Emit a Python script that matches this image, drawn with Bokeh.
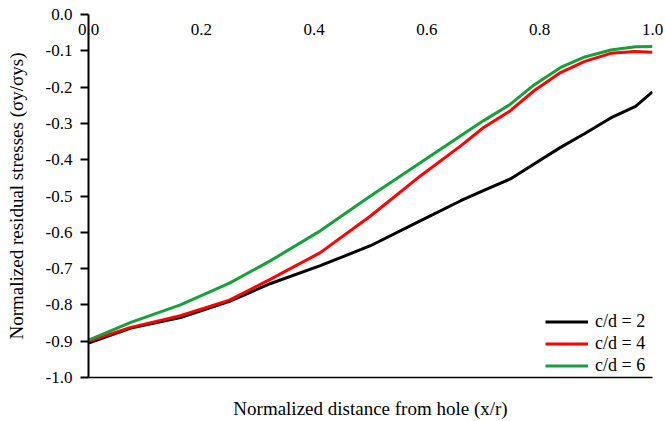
from bokeh.plotting import figure
from bokeh.models import FixedTicker, LinearAxis
from bokeh.embed import file_html
from bokeh.resources import INLINE

# ---- data ----
x_vals = [0.0, 0.075, 0.163, 0.25, 0.323, 0.411, 0.5, 0.589, 0.66, 0.7, 0.748, 0.79, 0.837, 0.88, 0.926, 0.97, 1.0]
cd2 = [-0.905, -0.864, -0.835, -0.790, -0.741, -0.692, -0.637, -0.568, -0.513, -0.485, -0.453, -0.412, -0.366, -0.328, -0.285, -0.253, -0.213]
cd4 = [-0.900, -0.862, -0.830, -0.787, -0.729, -0.656, -0.555, -0.444, -0.362, -0.312, -0.265, -0.210, -0.160, -0.129, -0.107, -0.102, -0.104]
cd6 = [-0.897, -0.848, -0.800, -0.740, -0.678, -0.596, -0.500, -0.408, -0.334, -0.293, -0.247, -0.194, -0.146, -0.117, -0.098, -0.089, -0.088]
series_names = ["c/d = 2", "c/d = 4", "c/d = 6"]
series_colors = ["#000000", "#ff0000", "#16a03c"]

x_ticks = [0.0, 0.2, 0.4, 0.6, 0.8, 1.0]
x_tick_labels = ["0.0", "0.2", "0.4", "0.6", "0.8", "1.0"]
y_ticks = [0.0, -0.1, -0.2, -0.3, -0.4, -0.5, -0.6, -0.7, -0.8, -0.9, -1.0]
y_tick_labels = ["0.0", "-0.1", "-0.2", "-0.3", "-0.4", "-0.5", "-0.6", "-0.7", "-0.8", "-0.9", "-1.0"]

FONT = "Liberation Serif"

p = figure(width=665, height=421, x_range=(0, 1), y_range=(-1, 0),
           output_backend="svg", toolbar_location=None,
           min_border_left=88, min_border_right=13, min_border_top=14, min_border_bottom=44)
p.outline_line_color = None
p.grid.visible = False
p.background_fill_color = "white"

# bottom axis: line + title only
xa = p.xaxis[0]
xa.ticker = FixedTicker(ticks=[])
xa.major_tick_out = 0
xa.major_tick_in = 0
xa.minor_tick_out = 0
xa.minor_tick_in = 0
xa.major_label_standoff = 0
xa.axis_line_width = 1.5
xa.axis_line_color = "black"
xa.axis_label = "Normalized distance from hole (x/r)"
xa.axis_label_text_font = FONT
xa.axis_label_text_font_size = "19px"
xa.axis_label_text_font_style = "normal"
xa.axis_label_text_color = "black"
xa.axis_label_standoff = 20

# top axis: tick labels only, hanging below the 0.0 line
ta = LinearAxis(ticker=FixedTicker(ticks=x_ticks),
                major_label_overrides={t: l for t, l in zip(x_ticks, x_tick_labels)})
ta.axis_line_color = None
ta.major_tick_line_color = None
ta.minor_tick_line_color = None
ta.major_tick_out = 0
ta.major_tick_in = 0
ta.minor_tick_out = 0
ta.minor_tick_in = 0
ta.major_label_standoff = -20
ta.major_label_text_font = FONT
ta.major_label_text_font_size = "17px"
ta.major_label_text_color = "black"
p.add_layout(ta, "above")

ya = p.yaxis[0]
ya.ticker = FixedTicker(ticks=y_ticks)
ya.major_label_overrides = {t: l for t, l in zip(y_ticks, y_tick_labels)}
ya.major_tick_out = 8
ya.major_tick_in = 0
ya.minor_tick_out = 0
ya.minor_tick_in = 0
ya.axis_line_width = 2
ya.major_tick_line_width = 2
ya.axis_line_color = "black"
ya.major_tick_line_color = "black"
ya.major_label_standoff = 8
ya.major_label_text_font = FONT
ya.major_label_text_font_size = "17px"
ya.major_label_text_color = "black"
ya.axis_label = "Normalized residual stresses (σy/σys)"
ya.axis_label_text_font = FONT
ya.axis_label_text_font_size = "19px"
ya.axis_label_text_font_style = "normal"
ya.axis_label_text_color = "black"
ya.axis_label_standoff = 16

for ys, name, col in zip([cd2, cd4, cd6], series_names, series_colors):
    p.line(x_vals, ys, line_color=col, line_width=3, legend_label=name)

lg = p.legend[0]
lg.location = (457, 1)
lg.border_line_color = None
lg.background_fill_alpha = 0
lg.padding = 0
lg.margin = 0
lg.spacing = 1
lg.glyph_width = 43
lg.glyph_height = 21
lg.label_height = 21
lg.label_standoff = 7
lg.label_text_font = FONT
lg.label_text_font_size = "18px"
lg.label_text_color = "black"

open("out.html", "w").write(file_html(p, INLINE))
